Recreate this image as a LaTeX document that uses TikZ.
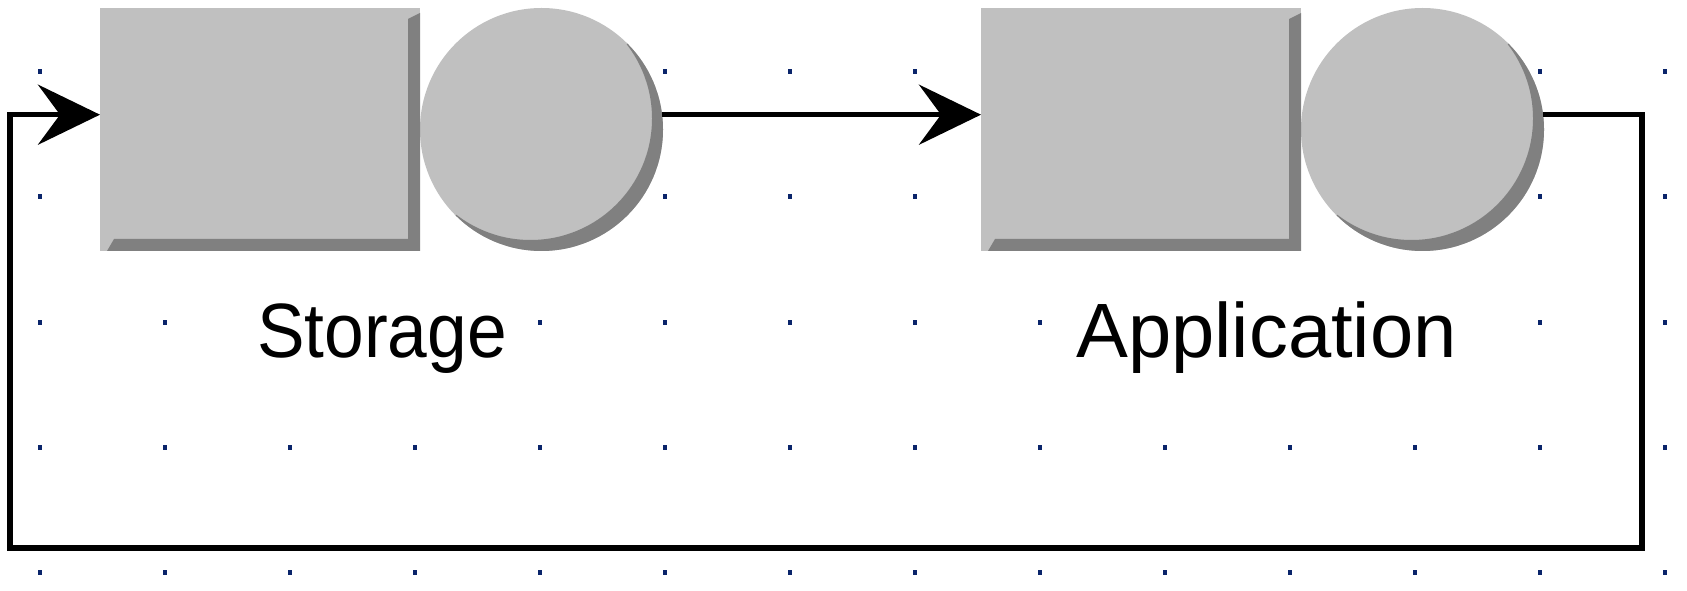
\documentclass[tikz,border=0pt]{standalone}
\usepackage{fontspec}
\setmainfont[Ligatures=NoCommon]{Liberation Sans}
\usetikzlibrary{arrows.meta,calc}
\definecolor{lightg}{HTML}{C0C0C0}
\definecolor{darkg}{HTML}{808080}
\definecolor{dotc}{HTML}{0A246A}
\tikzset{
 boxpart/.style={rectangle, fill=lightg, minimum width=320pt, minimum height=243pt, inner sep=0pt, outer sep=0pt},
 roundpart/.style={circle, fill=lightg, minimum size=243pt, inner sep=0pt, outer sep=0pt},
 flow/.style={line width=5.5pt, -{Stealth[length=62pt,width=60pt,inset=22pt]}},
 lbl/.style={fill=white, inner sep=2pt, anchor=base, font=\fontsize{77}{85}\selectfont},
 griddot/.style={fill=dotc}
}
\newcommand\rectbevel[1]{%
 \fill[darkg] ([yshift=-5pt]#1.north east) -- (#1.south east) -- ([xshift=7pt]#1.south west) -- ([shift={(14pt,12pt)}]#1.south west) -- ([shift={(-12pt,12pt)}]#1.south east) -- ([shift={(-12pt,-11pt)}]#1.north east) -- cycle;}
\newcommand\circbevel[1]{%
 \begin{scope}
 \clip ([shift={(-200pt,-200pt)}]#1.center) -- ([shift={(200pt,200pt)}]#1.center) -- ([shift={(200pt,-200pt)}]#1.center) -- cycle;
 \fill[darkg, even odd rule] (#1.center) circle[radius=121.5pt] ([shift={(-11pt,11pt)}]#1.center) circle[radius=121.5pt];
 \end{scope}}
\begin{document}
\begin{tikzpicture}[x=1pt,y=1pt]
\useasboundingbox (0,0) rectangle (1687,590);
% grid dots
\foreach \i in {0,...,13}{
  \foreach \Y in {518,393,268,143,18}{
    \fill[griddot] ({40+125*\i-2},{\Y-2.5}) rectangle ++(4,5);
  }
}
% shapes
\node[boxpart] (r1) at (260,460.5) {};
\node[roundpart] (c1) at (541.5,460.5) {};
\node[boxpart] (r2) at (1141,460.5) {};
\node[roundpart] (c2) at (1422.5,460.5) {};
\rectbevel{r1}
\rectbevel{r2}
\circbevel{c1}
\circbevel{c2}
% labels
\node[lbl] (l1) at (382,233) {\scalebox{0.926}[1]{Storage}};
\node[lbl] (l2) at (1266.5,233) {\scalebox{1.01}[1]{Application}};
% connectors
\coordinate (br) at (1642,42);
\coordinate (bl) at (10,42);
\draw[flow] (c1.7) -- (c1.7 -| r2.west);
\draw[flow] (c2.7) -| (br) -- (bl) |- (c2.7 -| r1.west);
\end{tikzpicture}
\end{document}
